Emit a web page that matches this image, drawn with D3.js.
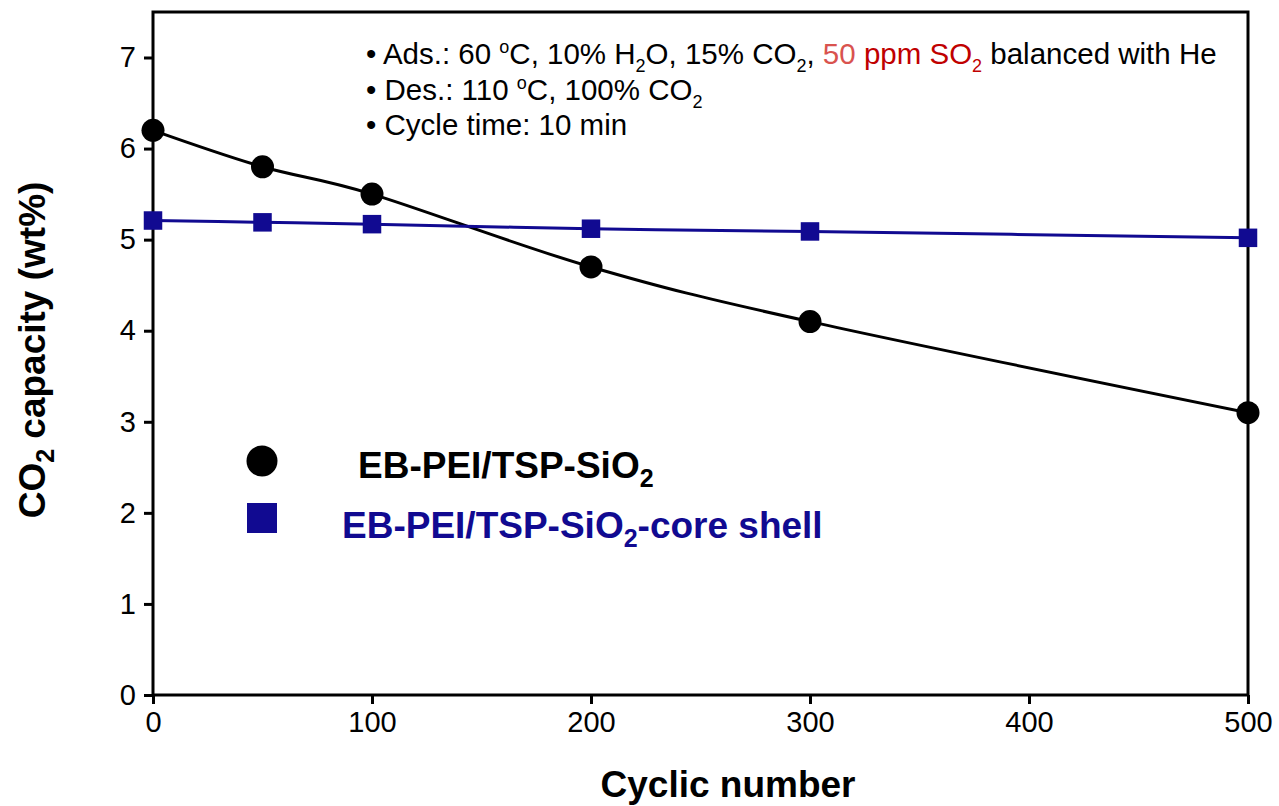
<!DOCTYPE html>
<html>
<head>
<meta charset="utf-8">
<script src="https://cdn.jsdelivr.net/npm/d3@7/dist/d3.min.js"></script>
<style>
  html, body { margin: 0; padding: 0; background: #fff; }
  svg { display: block; font-family: "Liberation Sans", Arial, sans-serif; }
</style>
</head>
<body>
<svg id="chart" width="1279" height="806"></svg>
<script>
// Cycle numbers and CO2 capacity (wt%) for each sorbent
const cycles = [0, 50, 100, 200, 300, 500];
const ebPeiTsp = [6.2, 5.8, 5.5, 4.7, 4.1, 3.1];
const ebPeiTspCoreShell = [5.21, 5.19, 5.17, 5.12, 5.09, 5.02];
const xTicks = [0, 100, 200, 300, 400, 500];
const yTicks = [0, 1, 2, 3, 4, 5, 6, 7];

const svg = d3.select("#chart");
const plotLeft = 153, plotRight = 1248, plotTop = 12, plotBottom = 695;

const x = d3.scaleLinear().domain([0, 500]).range([plotLeft, plotRight]);
const y = d3.scaleLinear().domain([0, 7]).range([plotBottom, 57.5]);

const blue = "#110a91";
const tickFont = 29, titleFont = 37;

// plot frame
svg.append("rect")
  .attr("x", plotLeft).attr("y", plotTop)
  .attr("width", plotRight - plotLeft).attr("height", plotBottom - plotTop)
  .attr("fill", "none").attr("stroke", "#000").attr("stroke-width", 3);

// y axis
const yAxis = svg.append("g")
  .attr("transform", `translate(${plotLeft},0)`)
  .call(d3.axisLeft(y).tickValues(yTicks).tickSize(9).tickPadding(8).tickFormat(d3.format("d")));
yAxis.select(".domain").remove();
yAxis.selectAll(".tick line").attr("stroke", "#000").attr("stroke-width", 3);
yAxis.selectAll(".tick text").attr("font-size", tickFont).attr("fill", "#000")
  .attr("font-family", "Liberation Sans, Arial, sans-serif");

// x axis
const xAxis = svg.append("g")
  .attr("transform", `translate(0,${plotBottom})`)
  .call(d3.axisBottom(x).tickValues(xTicks).tickSize(9).tickPadding(7).tickFormat(d3.format("d")));
xAxis.select(".domain").remove();
xAxis.selectAll(".tick line").attr("stroke", "#000").attr("stroke-width", 3);
xAxis.selectAll(".tick text").attr("font-size", tickFont).attr("fill", "#000")
  .attr("font-family", "Liberation Sans, Arial, sans-serif");

// axis titles
svg.append("text")
  .attr("x", 728).attr("y", 797)
  .attr("text-anchor", "middle")
  .attr("font-size", titleFont).attr("font-weight", "bold")
  .text("Cyclic number");

const yt = svg.append("text")
  .attr("transform", "translate(45,350) rotate(-90)")
  .attr("text-anchor", "middle")
  .attr("font-size", titleFont).attr("font-weight", "bold");
yt.append("tspan").text("CO");
yt.append("tspan").attr("font-size", 25).attr("dy", 9).text("2");
yt.append("tspan").attr("dy", -9).text(" capacity (wt%)");

// series lines
const curve = d3.curveCatmullRom.alpha(0);
const line1 = d3.line().x((d, i) => x(cycles[i])).y(d => y(d)).curve(curve);
svg.append("path").datum(ebPeiTsp)
  .attr("d", line1).attr("fill", "none").attr("stroke", "#000").attr("stroke-width", 3);

const line2 = d3.line().x((d, i) => x(cycles[i])).y(d => y(d)).curve(curve);
svg.append("path").datum(ebPeiTspCoreShell)
  .attr("d", line2).attr("fill", "none").attr("stroke", blue).attr("stroke-width", 3);

// markers
svg.append("g").selectAll("circle").data(ebPeiTsp).join("circle")
  .attr("cx", (d, i) => x(cycles[i])).attr("cy", d => y(d))
  .attr("r", 11.5).attr("fill", "#000");

const sq = 18.5;
svg.append("g").selectAll("rect").data(ebPeiTspCoreShell).join("rect")
  .attr("x", (d, i) => x(cycles[i]) - sq / 2).attr("y", d => y(d) - sq / 2)
  .attr("width", sq).attr("height", sq).attr("fill", blue);

// conditions annotation
const noteX = 366, noteFont = 29.5, supFont = 18;
function note(yPos) {
  return svg.append("text").attr("x", noteX).attr("y", yPos).attr("font-size", noteFont).attr("fill", "#000");
}
const t1 = note(64);
t1.append("tspan").text("• Ads.: 60 ");
t1.append("tspan").attr("font-size", supFont).attr("dy", -11).text("o");
t1.append("tspan").attr("dy", 11).text("C, 10% H");
t1.append("tspan").attr("font-size", supFont).attr("dy", 8).text("2");
t1.append("tspan").attr("dy", -8).text("O, 15% CO");
t1.append("tspan").attr("font-size", supFont).attr("dy", 8).text("2");
t1.append("tspan").attr("dy", -8).text(", ");
t1.append("tspan").attr("fill", "#d9534f").text("50");
t1.append("tspan").attr("fill", "#c00000").text(" ppm SO");
t1.append("tspan").attr("fill", "#c00000").attr("font-size", supFont).attr("dy", 8).text("2");
t1.append("tspan").attr("dy", -8).text(" balanced with He");

const t2 = note(100);
t2.append("tspan").text("• Des.: 110 ");
t2.append("tspan").attr("font-size", supFont).attr("dy", -11).text("o");
t2.append("tspan").attr("dy", 11).text("C, 100% CO");
t2.append("tspan").attr("font-size", supFont).attr("dy", 8).text("2");

const t3 = note(135);
t3.append("tspan").text("• Cycle time: 10 min");

// legend
svg.append("circle").attr("cx", 262).attr("cy", 461).attr("r", 15.5).attr("fill", "#000");
svg.append("rect").attr("x", 247).attr("y", 503).attr("width", 30).attr("height", 30).attr("fill", blue);

const l1 = svg.append("text").attr("x", 358).attr("y", 478)
  .attr("font-size", titleFont).attr("font-weight", "bold").attr("fill", "#000");
l1.append("tspan").text("EB-PEI/TSP-SiO");
l1.append("tspan").attr("font-size", 25).attr("dy", 9).text("2");

const l2 = svg.append("text").attr("x", 342).attr("y", 538)
  .attr("font-size", titleFont).attr("font-weight", "bold").attr("fill", blue);
l2.append("tspan").text("EB-PEI/TSP-SiO");
l2.append("tspan").attr("font-size", 25).attr("dy", 9).text("2");
l2.append("tspan").attr("dy", -9).text("-core shell");
</script>
</body>
</html>
